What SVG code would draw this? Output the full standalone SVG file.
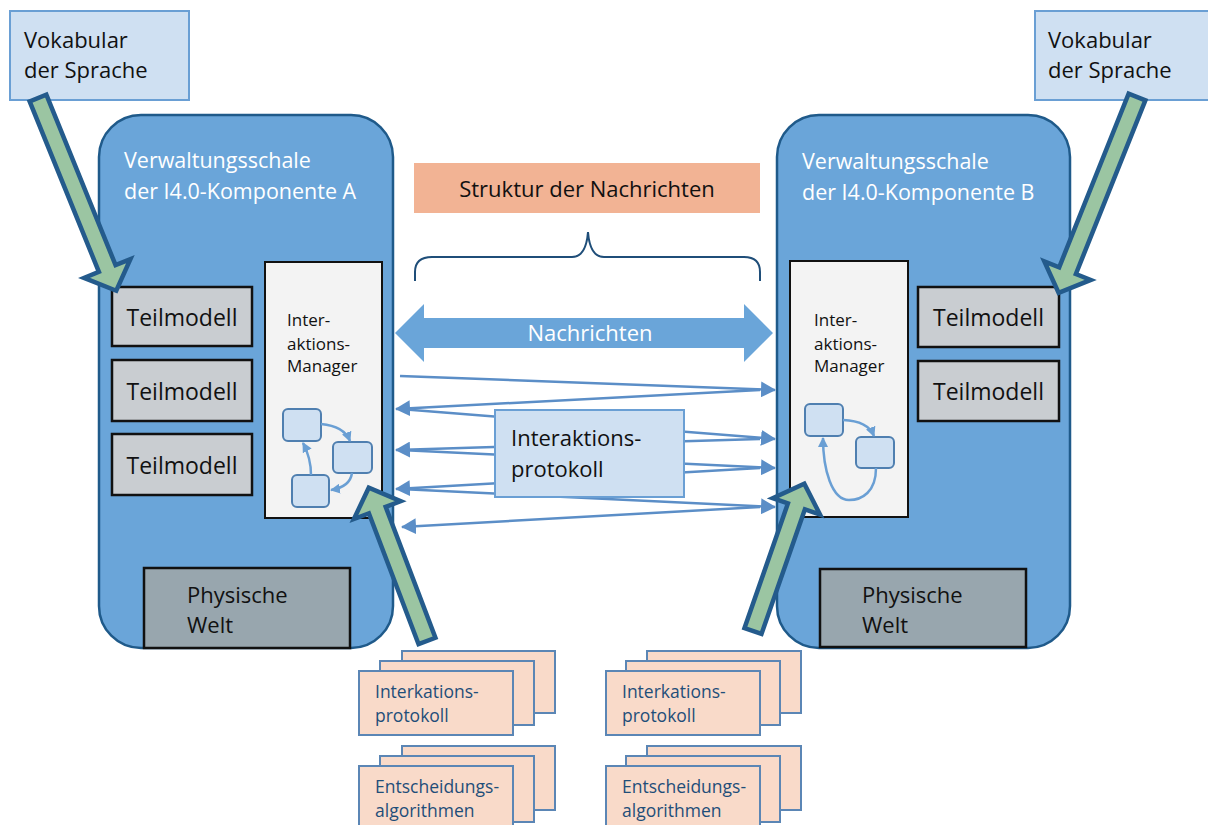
<svg xmlns="http://www.w3.org/2000/svg" width="1208" height="825" viewBox="0 0 1208 825">
<style>
text{font-family:"Open Sans","Noto Sans","DejaVu Sans",sans-serif;}
.vok{fill:#cfe0f2;stroke:#6a9fd4;stroke-width:2;}
.comp{fill:#6aa5d9;stroke:#1f5a8a;stroke-width:2.5;}
.ctitle{fill:#ffffff;font-size:21.5px;}
.tm{fill:#c9cdd1;stroke:#111;stroke-width:2.5;}
.tmt{fill:#111;font-size:23px;text-anchor:middle;}
.im{fill:#f3f3f3;stroke:#111;stroke-width:2;}
.imt{fill:#111;font-size:17px;}
.sb{fill:#cfe0f2;stroke:#4f7fb0;stroke-width:2;}
.sa{fill:none;stroke:#6a9fd4;stroke-width:2.5;}
.pw{fill:#98a6ae;stroke:#111;stroke-width:2.5;}
.pwt{fill:#111;font-size:22px;}
.dark{fill:#111;font-size:22px;}
.msg{fill:none;stroke:#5b8ec7;stroke-width:2.5;}
.ga{fill:#9bc5a2;stroke:#245b8c;stroke-width:4.5;stroke-linejoin:miter;}
.card{fill:#f9dac9;stroke:#5b86b5;stroke-width:2;}
.cardt{fill:#1f4e79;font-size:17.5px;}
</style>
<defs>
<marker id="ah" markerUnits="userSpaceOnUse" markerWidth="15" markerHeight="16" refX="14" refY="8" orient="auto">
<path d="M0,0 L15,8 L0,16 z" fill="#5b8ec7"/>
</marker>
<marker id="sah" markerUnits="userSpaceOnUse" markerWidth="10" markerHeight="10" refX="9" refY="5" orient="auto">
<path d="M0,0 L10,5 L0,10 z" fill="#6a9fd4"/>
</marker>
</defs>

<g id="komponente-a">
<rect class="comp" x="99" y="115" width="294" height="533" rx="42"/>
<text class="ctitle" x="124" y="168">Verwaltungsschale</text>
<text class="ctitle" x="124" y="199">der I4.0-Komponente A</text>
</g>
<g id="komponente-b">
<rect class="comp" x="777" y="115" width="293" height="533" rx="42"/>
<text class="ctitle" x="802" y="169">Verwaltungsschale</text>
<text class="ctitle" x="802" y="200">der I4.0-Komponente B</text>
</g>

<g id="teilmodell-a1"><rect class="tm" x="112" y="287" width="140" height="59"/><text class="tmt" x="182" y="326">Teilmodell</text></g>
<g id="teilmodell-a2"><rect class="tm" x="112" y="360" width="140" height="61"/><text class="tmt" x="182" y="400">Teilmodell</text></g>
<g id="teilmodell-a3"><rect class="tm" x="112" y="434" width="140" height="61"/><text class="tmt" x="182" y="474">Teilmodell</text></g>
<g id="teilmodell-b1"><rect class="tm" x="918" y="287" width="141" height="60"/><text class="tmt" x="988.5" y="326">Teilmodell</text></g>
<g id="teilmodell-b2"><rect class="tm" x="918" y="361" width="141" height="60"/><text class="tmt" x="988.5" y="400">Teilmodell</text></g>

<g id="im-a">
<rect class="im" x="265" y="262" width="117" height="256"/>
<text class="imt" x="287" y="326">Inter-</text>
<text class="imt" x="287" y="350">aktions-</text>
<text class="imt" x="287" y="372">Manager</text>
<rect class="sb" x="283" y="409" width="38" height="32" rx="5"/>
<rect class="sb" x="333" y="442" width="39" height="31" rx="5"/>
<rect class="sb" x="292" y="475" width="37" height="32" rx="5"/>
<path class="sa" d="M321,424 Q344,426 350,441" marker-end="url(#sah)"/>
<path class="sa" d="M352,473 Q350,487 331,490" marker-end="url(#sah)"/>
<path class="sa" d="M311,475 Q311,458 303,443" marker-end="url(#sah)"/>
</g>
<g id="im-b">
<rect class="im" x="790" y="261" width="118" height="256"/>
<text class="imt" x="814" y="326">Inter-</text>
<text class="imt" x="814" y="350">aktions-</text>
<text class="imt" x="814" y="372">Manager</text>
<rect class="sb" x="805" y="404" width="38" height="32" rx="5"/>
<rect class="sb" x="856" y="437" width="38" height="31" rx="5"/>
<path class="sa" d="M843,420 Q868,421 874,436" marker-end="url(#sah)"/>
<path class="sa" d="M876,468 C876,492 862,500 849,500 C832,500 823,470 823,438" marker-end="url(#sah)"/>
</g>

<g id="physische-welt-a"><rect class="pw" x="144" y="568" width="206" height="80"/><text class="pwt" x="187" y="603">Physische</text><text class="pwt" x="187" y="633">Welt</text></g>
<g id="physische-welt-b"><rect class="pw" x="820" y="569" width="206" height="78"/><text class="pwt" x="862" y="603">Physische</text><text class="pwt" x="862" y="633">Welt</text></g>

<g id="struktur">
<rect x="414" y="163" width="346" height="50" fill="#f2b394"/>
<text class="dark" x="587" y="197" text-anchor="middle">Struktur der Nachrichten</text>
</g>

<g id="connectors">
<path d="M415,281 L415,272 Q415,257 432,257 L572,257 Q586,257 588,232 Q590,257 604,257 L744,257 Q760,257 760,272 L760,281" fill="none" stroke="#1f4e79" stroke-width="2"/>
<path d="M395,333 L424,304 L424,318 L744,318 L744,304 L773,333 L744,362 L744,348 L424,348 L424,362 Z" fill="#6aa5d9"/>
<text x="590" y="341" fill="#fff" font-size="22" text-anchor="middle">Nachrichten</text>
<line class="msg" x1="400" y1="376" x2="775" y2="390" marker-end="url(#ah)"/>
<line class="msg" x1="760" y1="390" x2="396" y2="409" marker-end="url(#ah)"/>
<line class="msg" x1="400" y1="409" x2="775" y2="439" marker-end="url(#ah)"/>
<line class="msg" x1="760" y1="439" x2="396" y2="450" marker-end="url(#ah)"/>
<line class="msg" x1="400" y1="450" x2="775" y2="468" marker-end="url(#ah)"/>
<line class="msg" x1="760" y1="468" x2="396" y2="489" marker-end="url(#ah)"/>
<line class="msg" x1="400" y1="489" x2="775" y2="507" marker-end="url(#ah)"/>
<line class="msg" x1="760" y1="507" x2="402" y2="527" marker-end="url(#ah)"/>
</g>

<g id="interaktionsprotokoll">
<rect x="495" y="410" width="189" height="87" fill="#cfe0f2" stroke="#6a9fd4" stroke-width="2"/>
<text class="dark" x="511" y="446">Interaktions-</text>
<text class="dark" x="511" y="477">protokoll</text>
</g>

<g id="vokabular-a"><rect class="vok" x="10" y="11" width="179" height="89"/><text class="dark" x="24" y="48">Vokabular</text><text class="dark" x="24" y="78">der Sprache</text></g>
<g id="vokabular-b"><rect class="vok" x="1035" y="11" width="180" height="89"/><text class="dark" x="1048" y="48">Vokabular</text><text class="dark" x="1048" y="78">der Sprache</text></g>

<g id="green-arrows">
<path class="ga" transform="translate(38,98) rotate(67.9)" d="M0,-9 L184,-9 L184,-25 L208,0 L184,25 L184,9 L0,9 Z"/>
<path class="ga" transform="translate(1137,97) rotate(111.8)" d="M0,-9 L187,-9 L187,-25 L211,0 L187,25 L187,9 L0,9 Z"/>
<path class="ga" transform="translate(427,641) rotate(-110.8)" d="M0,-9 L140,-9 L140,-25 L164,0 L140,25 L140,9 L0,9 Z"/>
<path class="ga" transform="translate(753,631) rotate(-70.8)" d="M0,-9 L132,-9 L132,-25 L156,0 L132,25 L132,9 L0,9 Z"/>
</g>

<g id="cards-a-protokoll">
<rect class="card" x="402" y="651" width="153" height="62"/>
<rect class="card" x="380" y="661" width="154" height="64"/>
<rect class="card" x="359" y="671" width="154" height="64"/>
<text class="cardt" x="375" y="698">Interkations-</text><text class="cardt" x="375" y="722">protokoll</text>
</g>
<g id="cards-a-algorithmen">
<rect class="card" x="402" y="746" width="153" height="64"/>
<rect class="card" x="380" y="756" width="154" height="66"/>
<rect class="card" x="359" y="766" width="154" height="66"/>
<text class="cardt" x="375" y="793">Entscheidungs-</text><text class="cardt" x="375" y="817">algorithmen</text>
</g>
<g id="cards-b-protokoll">
<rect class="card" x="647" y="651" width="154" height="62"/>
<rect class="card" x="626" y="661" width="154" height="64"/>
<rect class="card" x="606" y="671" width="154" height="64"/>
<text class="cardt" x="622" y="698">Interkations-</text><text class="cardt" x="622" y="722">protokoll</text>
</g>
<g id="cards-b-algorithmen">
<rect class="card" x="647" y="746" width="154" height="64"/>
<rect class="card" x="626" y="756" width="154" height="66"/>
<rect class="card" x="606" y="766" width="154" height="66"/>
<text class="cardt" x="622" y="793">Entscheidungs-</text><text class="cardt" x="622" y="817">algorithmen</text>
</g>
</svg>
